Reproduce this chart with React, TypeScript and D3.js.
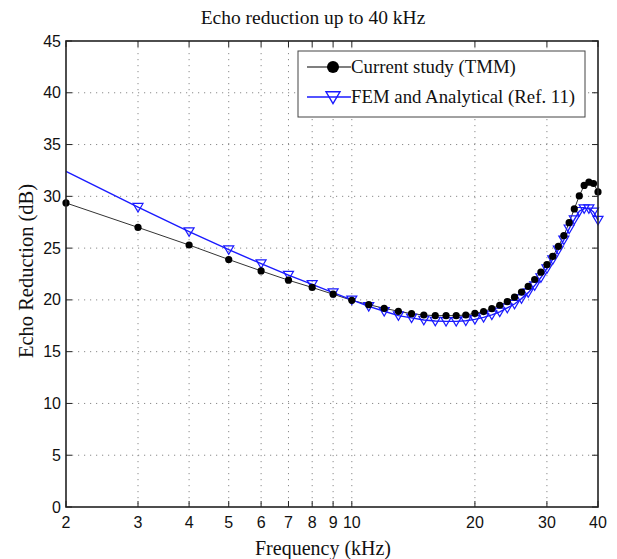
import React from "react";
import * as d3 from "d3";

const freqsLow = [2, 3, 4, 5, 6, 7, 8, 9];
const freqsHigh = [10, 11, 12, 13, 14, 15, 16, 17, 18, 19, 20, 21, 22, 23, 24, 25, 26, 27, 28, 29, 30, 31, 32, 33, 34, 35, 36, 37, 38, 39, 40];
const freqs = [...freqsLow, ...freqsHigh];

const tmm = [
  29.36, 27.0, 25.3, 23.9, 22.8, 21.9, 21.2, 20.55,
  19.96, 19.54, 19.19, 18.9, 18.67, 18.54, 18.48, 18.48, 18.48, 18.54, 18.7,
  18.87, 19.16, 19.48, 19.84, 20.26, 20.75, 21.3, 21.97, 22.68, 23.4, 24.2,
  25.16, 26.2, 27.46, 28.78, 30.04, 31.05, 31.37, 31.24, 30.43,
];

const fem = [
  32.4, 28.95, 26.6, 24.85, 23.5, 22.4, 21.5, 20.7,
  20.0, 19.38, 18.9, 18.48, 18.26, 18.06, 17.96, 17.93, 17.93, 17.99, 18.12,
  18.31, 18.55, 18.84, 19.22, 19.6, 20.12, 20.7, 21.38, 22.16, 23.03, 23.9,
  24.84, 25.8, 26.87, 27.75, 28.56, 28.82, 28.82, 28.5, 27.7,
];

const xTicks = [2, 3, 4, 5, 6, 7, 8, 9, 10, 20, 30, 40];
const yTicks = [0, 5, 10, 15, 20, 25, 30, 35, 40, 45];

const title = "Echo reduction up to 40 kHz";
const xLabel = "Frequency (kHz)";
const yLabel = "Echo Reduction (dB)";
const seriesNames = ["Current study (TMM)", "FEM and Analytical (Ref. 11)"];

const W = 617;
const H = 559;
const L = 66, R = 598, T = 41, B = 507;

export default function App() {
  const x = d3.scaleLog().domain([2, 40]).range([L, R]);
  const y = d3.scaleLinear().domain([0, 45]).range([B, T]);

  const tmmData = freqs.map((f, i) => [f, tmm[i]] as [number, number]);
  const femData = freqs.map((f, i) => [f, fem[i]] as [number, number]);
  const line = d3.line<[number, number]>().x((d) => x(d[0])).y((d) => y(d[1]));

  const tri = (cx: number, cy: number, s: number) =>
    `M${cx - s},${cy - s * 0.75} L${cx + s},${cy - s * 0.75} L${cx},${cy + s * 0.95} Z`;

  const gridColor = "#8a8a8a";
  const sans = "'Liberation Sans', Arial, sans-serif";
  const serif = "'Liberation Serif', 'Times New Roman', serif";
  const blue = "#1a1aff";

  return (
    <svg width={W} height={H} style={{ position: "absolute", left: 0, top: 0, background: "#fff" }}>
      <rect x={0} y={0} width={W} height={H} fill="#fff" />
      {/* grid */}
      {xTicks.filter((t) => t !== 2 && t !== 40).map((t) => (
        <line key={"gx" + t} x1={x(t)} x2={x(t)} y1={T} y2={B} stroke={gridColor} strokeWidth={1} strokeDasharray="1.2,4.8" />
      ))}
      {yTicks.filter((t) => t !== 0 && t !== 45).map((t) => (
        <line key={"gy" + t} x1={L} x2={R} y1={y(t)} y2={y(t)} stroke={gridColor} strokeWidth={1} strokeDasharray="1.2,4.8" />
      ))}
      {/* ticks */}
      {xTicks.map((t) => (
        <g key={"tx" + t}>
          <line x1={x(t)} x2={x(t)} y1={B} y2={B - 6} stroke="#222" strokeWidth={1} />
          <line x1={x(t)} x2={x(t)} y1={T} y2={T + 6} stroke="#222" strokeWidth={1} />
          <text x={x(t)} y={528} textAnchor="middle" fontFamily={sans} fontSize={16} fill="#111">{t}</text>
        </g>
      ))}
      {yTicks.map((t) => (
        <g key={"ty" + t}>
          <line x1={L} x2={L + 6} y1={y(t)} y2={y(t)} stroke="#222" strokeWidth={1} />
          <line x1={R} x2={R - 6} y1={y(t)} y2={y(t)} stroke="#222" strokeWidth={1} />
          <text x={61} y={y(t) + 5.5} textAnchor="end" fontFamily={sans} fontSize={16} fill="#111">{t}</text>
        </g>
      ))}
      {/* lines */}
      <path d={line(tmmData) || ""} fill="none" stroke="#333" strokeWidth={1} />
      <path d={line(femData) || ""} fill="none" stroke={blue} strokeWidth={1.4} />
      {femData.filter((d) => d[0] !== 2).map((d, i) => (
        <path key={"fm" + i} d={tri(x(d[0]), y(d[1]), 5)} fill="none" stroke={blue} strokeWidth={1.2} />
      ))}
      {tmmData.map((d, i) => (
        <circle key={"tm" + i} cx={x(d[0])} cy={y(d[1])} r={3.6} fill="#000" />
      ))}
      {/* axes box */}
      <rect x={L} y={T} width={R - L} height={B - T} fill="none" stroke="#222" strokeWidth={1.6} />
      {/* legend */}
      <rect x={298} y={51} width={287} height={66} fill="#fff" stroke="#444" strokeWidth={1} />
      <line x1={307} x2={351} y1={67} y2={67} stroke="#000" strokeWidth={1.2} />
      <circle cx={333} cy={67} r={6} fill="#000" />
      <text x={351} y={73} fontFamily={serif} fontSize={18.8} fill="#111">{seriesNames[0]}</text>
      <line x1={307} x2={351} y1={97} y2={97} stroke={blue} strokeWidth={1.3} />
      <path d={tri(333, 97, 7)} fill="none" stroke={blue} strokeWidth={1.4} />
      <text x={351} y={103} fontFamily={serif} fontSize={18.8} fill="#111">{seriesNames[1]}</text>
      {/* titles */}
      <text x={313} y={24} textAnchor="middle" fontFamily={serif} fontSize={19.5} fill="#111">{title}</text>
      <text x={323} y={555} textAnchor="middle" fontFamily={serif} fontSize={20} fill="#111">{xLabel}</text>
      <text transform={`translate(33,271) rotate(-90)`} textAnchor="middle" fontFamily={serif} fontSize={20.5} fill="#111">{yLabel}</text>
    </svg>
  );
}
